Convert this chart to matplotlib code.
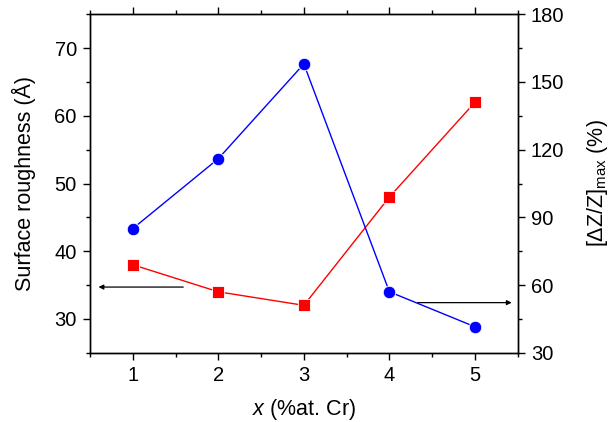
import matplotlib
matplotlib.use("Agg")
import matplotlib.pyplot as plt
from matplotlib.ticker import MultipleLocator

plt.rcParams["font.family"] = ["Liberation Sans", "DejaVu Sans"]
plt.rcParams["mathtext.fontset"] = "custom"
plt.rcParams["mathtext.rm"] = "Liberation Sans"
plt.rcParams["mathtext.it"] = "Liberation Sans:italic"

# Cr content (at.%)
cr_content = [1, 2, 3, 4, 5]
# Surface roughness (Å), left axis
roughness = [38, 34, 32, 48, 62]
# Maximum GMI ratio [ΔZ/Z]max (%), right axis
gmi_max = [85, 116, 158, 57, 41.5]

fig = plt.figure(figsize=(6.10, 4.22), dpi=100)
ax = fig.add_axes([0.1475, 0.1642, 0.7012, 0.8019])
ax2 = ax.twinx()

ax.plot(cr_content, roughness, color="#ff0000", lw=1.0, marker="s",
        ms=8.2, mfc="#ff0000", mec="white", mew=0.6, zorder=3)
ax2.plot(cr_content, gmi_max, color="#0000ff", lw=1.0, marker="o",
         ms=9, mfc="#0000ff", mec="white", mew=0.6, zorder=3)

ax.set_xlim(0.5, 5.5)
ax.set_ylim(25, 75)
ax2.set_ylim(30, 180)

ax.xaxis.set_major_locator(MultipleLocator(1))
ax.xaxis.set_minor_locator(MultipleLocator(0.5))
ax.yaxis.set_major_locator(MultipleLocator(10))
ax.yaxis.set_minor_locator(MultipleLocator(5))
ax2.yaxis.set_major_locator(MultipleLocator(30))
ax2.yaxis.set_minor_locator(MultipleLocator(15))

for a in (ax, ax2):
    for s in a.spines.values():
        s.set_linewidth(1.0)
ax.tick_params(axis="both", which="major", direction="out", length=5,
               width=1.0, labelsize=14.5, top=True, pad=4.5)
ax.tick_params(axis="both", which="minor", direction="out", length=3,
               width=1.0, top=True)
ax.tick_params(axis="x", which="both", labeltop=False)
ax2.tick_params(axis="y", which="major", direction="out", length=5,
                width=1.0, labelsize=14.5, pad=4.5)
ax2.tick_params(axis="y", which="minor", direction="out", length=3, width=1.0)

ax.set_xlabel("$x$ (%at. Cr)", fontsize=15.5, labelpad=8.5)
ax.set_ylabel("Surface roughness (Å)", fontsize=15.5, labelpad=13)
ax2.set_ylabel(r"[$\Delta$Z/Z]$_{\mathrm{max}}$ (%)", fontsize=15.5,
               labelpad=15)

# Arrows pointing each series to its axis
ax.annotate("", xy=(0.6, 34.7), xytext=(1.59, 34.7),
            arrowprops=dict(arrowstyle="-|>", color="black", lw=0.9,
                            mutation_scale=7, shrinkA=0, shrinkB=0))
ax.annotate("", xy=(5.43, 32.4), xytext=(4.33, 32.4),
            arrowprops=dict(arrowstyle="-|>", color="black", lw=0.9,
                            mutation_scale=7, shrinkA=0, shrinkB=0))

fig.savefig("out.png", dpi=100)
